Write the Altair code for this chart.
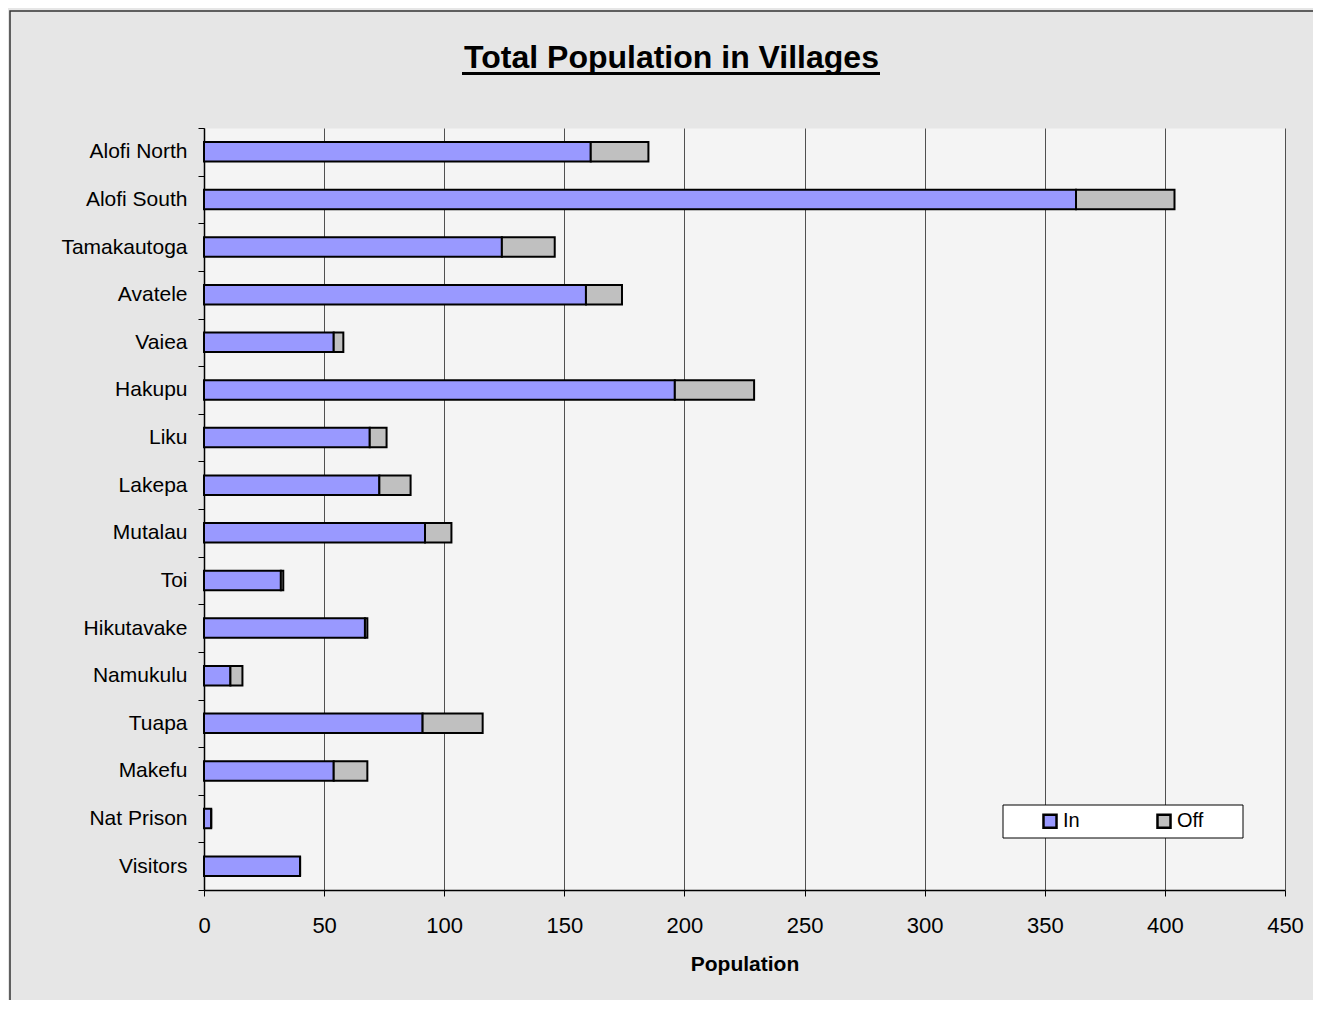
import altair as alt
import pandas as pd

villages = ["Alofi North", "Alofi South", "Tamakautoga", "Avatele", "Vaiea", "Hakupu",
            "Liku", "Lakepa", "Mutalau", "Toi", "Hikutavake", "Namukulu", "Tuapa",
            "Makefu", "Nat Prison", "Visitors"]
in_vals = [161, 363, 124, 159, 54, 196, 69, 73, 92, 32, 67, 11, 91, 54, 3, 40]
off_vals = [24, 41, 22, 15, 4, 33, 7, 13, 11, 1, 1, 5, 25, 14, 0, 0]
series = ["In", "Off"]
colors = ["#9999ff", "#c0c0c0"]
x_ticks = [0, 50, 100, 150, 200, 250, 300, 350, 400, 450]

rows = []
for v, a, b in zip(villages, in_vals, off_vals):
    rows.append({"village": v, "status": "In", "value": a, "order": 0})
    rows.append({"village": v, "status": "Off", "value": b, "order": 1})
df = pd.DataFrame(rows)

FONT = "Liberation Sans"
W, H = 1081, 762

bars = alt.Chart(df).mark_bar(
    stroke="black", strokeWidth=2, height={"band": 0.41}
).encode(
    y=alt.Y("village:N", sort=villages,
            scale=alt.Scale(paddingInner=0, paddingOuter=0),
            axis=alt.Axis(title=None, tickBand="extent", labelFontSize=21,
                          labelFont=FONT, labelColor="black", labelPadding=11,
                          tickSize=6, tickColor="black", domainColor="black",
                          domainWidth=1.5, grid=False)),
    x=alt.X("value:Q", stack="zero",
            scale=alt.Scale(domain=[0, 450], nice=False),
            axis=alt.Axis(values=x_ticks, title="Population", titleFontSize=21,
                          titleFont=FONT, titleFontWeight="bold", titleColor="black",
                          titlePadding=17, labelFontSize=22, labelFont=FONT,
                          labelColor="black", labelPadding=19, labelFlush=False,
                          tickSize=6, tickColor="black", domainColor="black",
                          domainWidth=1.5, grid=True, gridColor="#505050",
                          gridWidth=1)),
    color=alt.Color("status:N", scale=alt.Scale(domain=series, range=colors),
                    legend=alt.Legend(title=None, orient="none", legendX=836,
                                      legendY=683, direction="horizontal",
                                      columns=2, columnPadding=72,
                                      symbolType="square", symbolSize=170,
                                      symbolStrokeWidth=2.5, symbolStrokeColor="black",
                                      symbolOpacity=1,
                                      labelFontSize=20, labelFont=FONT,
                                      labelColor="black", labelOffset=3, padding=0)),
    order=alt.Order("order:Q"),
)

one = pd.DataFrame({"k": [0]})

legend_box = alt.Chart(one).mark_rect(
    fill="white", stroke="black", strokeWidth=1
).encode(x=alt.value(799), x2=alt.value(1039), y=alt.value(677), y2=alt.value(710))

underline = alt.Chart(one).mark_rule(color="black", strokeWidth=3).encode(
    x=alt.value(258), x2=alt.value(676), y=alt.value(-54.5))

border = alt.Chart(one).mark_rect(
    fill="transparent", stroke="#333333", strokeWidth=1.5
).encode(x=alt.value(-194), x2=alt.value(1200), y=alt.value(-117), y2=alt.value(1000))

# the title is placed relative to the group's full bounds (whose top is the
# frame rectangle), so a negative offset brings it down above the plot
chart = alt.layer(bars, legend_box, underline, border).properties(
    width=W, height=H,
    title=alt.Title("Total Population in Villages", fontSize=32, font=FONT,
                    fontWeight="bold", color="black", anchor="middle",
                    baseline="alphabetic", offset=-89.75, frame="group", dx=-73),
    padding={"left": 196, "top": 120, "right": 28, "bottom": 110},
    autosize=alt.AutoSizeParams(type="none"),
    background="#e6e6e6",
).configure_view(fill="#f4f4f4", stroke="transparent")

chart.save("out.html", embed_options={"renderer": "svg", "actions": False})
